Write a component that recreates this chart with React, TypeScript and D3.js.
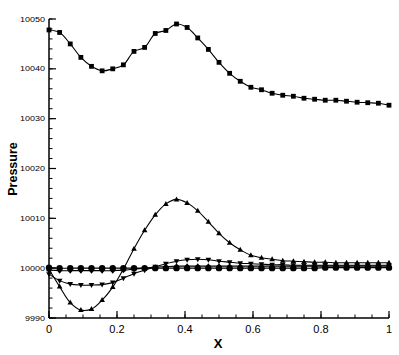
import React from "react";
import * as d3 from "d3";

// x grid of the solution (33 stations)
const xValues = [
  0, 0.03125, 0.0625, 0.09375, 0.125, 0.15625, 0.1875, 0.21875, 0.25, 0.28125, 0.3125,
  0.34375, 0.375, 0.40625, 0.4375, 0.46875, 0.5, 0.53125, 0.5625, 0.59375, 0.625,
  0.65625, 0.6875, 0.71875, 0.75, 0.78125, 0.8125, 0.84375, 0.875, 0.90625, 0.9375,
  0.96875, 1,
];

const squareSeries = [
  10047.8, 10047.3, 10045.0, 10042.3, 10040.5, 10039.6, 10040.0, 10040.8, 10043.5, 10044.3,
  10047.1, 10047.7, 10049.0, 10048.3, 10046.2, 10043.9, 10041.3, 10039.1, 10037.5, 10036.3,
  10035.8, 10035.1, 10034.7, 10034.5, 10034.1, 10033.9, 10033.7, 10033.7, 10033.5, 10033.3,
  10033.2, 10033.1, 10032.7,
];

const upTriangleSeries = [
  9999.8, 9996.3, 9993.1, 9991.6, 9991.8, 9993.6, 9996.2, 9999.8, 10003.9, 10007.6,
  10010.7, 10012.9, 10013.8, 10013.1, 10011.5, 10009.3, 10007.0, 10005.1, 10003.7, 10002.6,
  10002.1, 10001.8, 10001.5, 10001.4, 10001.3, 10001.2, 10001.2, 10001.1, 10001.1, 10001.1,
  10001.1, 10001.1, 10001.1,
];

const downTriangleSeries = [
  9998.8, 9997.5, 9996.8, 9996.6, 9996.6, 9996.7, 9997.1, 9998.0, 9998.9, 9999.6,
  10000.3, 10000.9, 10001.4, 10001.7, 10001.8, 10001.7, 10001.4, 10001.2, 10001.0, 10000.9,
  10000.8, 10000.7, 10000.7, 10000.6, 10000.6, 10000.6, 10000.6, 10000.6, 10000.6, 10000.6,
  10000.6, 10000.6, 10000.6,
];

const circleSeries = [
  10000.1, 10000.0, 10000.0, 10000.0, 10000.0, 10000.0, 10000.0, 10000.0, 10000.0, 10000.0,
  10000.0, 10000.0, 10000.0, 10000.0, 10000.0, 10000.0, 10000.0, 10000.0, 10000.0, 10000.0,
  10000.0, 10000.0, 10000.0, 10000.0, 10000.0, 10000.0, 10000.1, 10000.1, 10000.1, 10000.1,
  10000.1, 10000.1, 10000.1,
];

const diamondSeries = [
  9999.6, 9999.5, 9999.5, 9999.5, 9999.5, 9999.5, 9999.5, 9999.6, 9999.8, 10000.0,
  10000.2, 10000.3, 10000.4, 10000.4, 10000.4, 10000.4, 10000.4, 10000.4, 10000.4, 10000.4,
  10000.4, 10000.4, 10000.4, 10000.4, 10000.4, 10000.4, 10000.4, 10000.4, 10000.4, 10000.4,
  10000.4, 10000.4, 10000.4,
];

const xTicks = [0, 0.2, 0.4, 0.6, 0.8, 1];
const yTicks = [9990, 10000, 10010, 10020, 10030, 10040, 10050];

const width = 399;
const height = 355;
const margin = { left: 49, right: 10, top: 19, bottom: 37 };

const font = "'Liberation Sans', Arial, Helvetica, sans-serif";

const Marker = ({ kind, x, y }: { kind: string; x: number; y: number }) => {
  if (kind === "square") return <rect x={x - 2.4} y={y - 2.4} width={4.8} height={4.8} fill="#000" />;
  if (kind === "circle") return <circle cx={x} cy={y} r={3.2} fill="#000" />;
  if (kind === "up") return <path d={`M${x},${y - 3}L${x + 2.8},${y + 2}L${x - 2.8},${y + 2}Z`} fill="#000" />;
  if (kind === "down") return <path d={`M${x},${y + 3}L${x + 2.8},${y - 2}L${x - 2.8},${y - 2}Z`} fill="#000" />;
  return <path d={`M${x},${y - 3}L${x + 2.4},${y}L${x},${y + 3}L${x - 2.4},${y}Z`} fill="#000" />;
};

export default function App() {
  const xScale = d3.scaleLinear().domain([0, 1]).range([margin.left, width - margin.right]);
  const yScale = d3.scaleLinear().domain([9990, 10050]).range([height - margin.bottom, margin.top]);

  const series = [
    { kind: "diamond", values: diamondSeries },
    { kind: "circle", values: circleSeries },
    { kind: "down", values: downTriangleSeries },
    { kind: "up", values: upTriangleSeries },
    { kind: "square", values: squareSeries },
  ];

  const line = d3
    .line<number>()
    .x((_, i) => xScale(xValues[i]))
    .y((d) => yScale(d))
    .curve(d3.curveCatmullRom);

  const xMinor = d3.range(0, 1.0001, 0.05);
  const yMinor = d3.range(9990, 10050.001, 2);
  const x0 = xScale(0);
  const y0 = yScale(9990);

  return (
    <svg width={width} height={height} style={{ position: "absolute", left: 0, top: 0, background: "#fff" }}>
      {/* curves */}
      {series.map((s) => (
        <g key={s.kind}>
          <path d={line(s.values) || ""} fill="none" stroke="#000" strokeWidth={1.1} />
          {s.values.map((v, i) => (
            <Marker key={i} kind={s.kind} x={xScale(xValues[i])} y={yScale(v)} />
          ))}
        </g>
      ))}

      {/* axes */}
      <line x1={x0} x2={xScale(1)} y1={y0} y2={y0} stroke="#000" strokeWidth={1.5} />
      <line x1={x0} x2={x0} y1={y0} y2={yScale(10050)} stroke="#000" strokeWidth={1.5} />

      {xMinor.map((t, i) => (
        <line key={`xm${i}`} x1={xScale(t)} x2={xScale(t)} y1={y0} y2={y0 - 3.5} stroke="#000" strokeWidth={1} />
      ))}
      {xTicks.map((t) => (
        <g key={`x${t}`}>
          <line x1={xScale(t)} x2={xScale(t)} y1={y0} y2={y0 - 7} stroke="#000" strokeWidth={1.2} />
          <text x={xScale(t)} y={333} fontSize={11} fontFamily={font} textAnchor="middle" fill="#000">
            {t}
          </text>
        </g>
      ))}

      {yMinor.map((t, i) => (
        <line key={`ym${i}`} x1={x0} x2={x0 + 3.5} y1={yScale(t)} y2={yScale(t)} stroke="#000" strokeWidth={1} />
      ))}
      {yTicks.map((t) => (
        <g key={`y${t}`}>
          <line x1={x0} x2={x0 + 7} y1={yScale(t)} y2={yScale(t)} stroke="#000" strokeWidth={1.2} />
          <text
            x={45}
            y={yScale(t) + 2.5}
            fontSize={7}
            fontFamily={font}
            textAnchor="end"
            fill="#000"
            textLength={t >= 10000 ? 25 : 20}
            lengthAdjust="spacingAndGlyphs"
          >
            {t}
          </text>
        </g>
      ))}

      <text x={218} y={348} fontSize={13} fontWeight="bold" fontFamily={font} textAnchor="middle" fill="#000">
        X
      </text>
      <text
        transform={`translate(17,169) rotate(-90)`}
        fontSize={12.5}
        fontWeight="bold"
        fontFamily={font}
        textAnchor="middle"
        fill="#000"
      >
        Pressure
      </text>
    </svg>
  );
}
